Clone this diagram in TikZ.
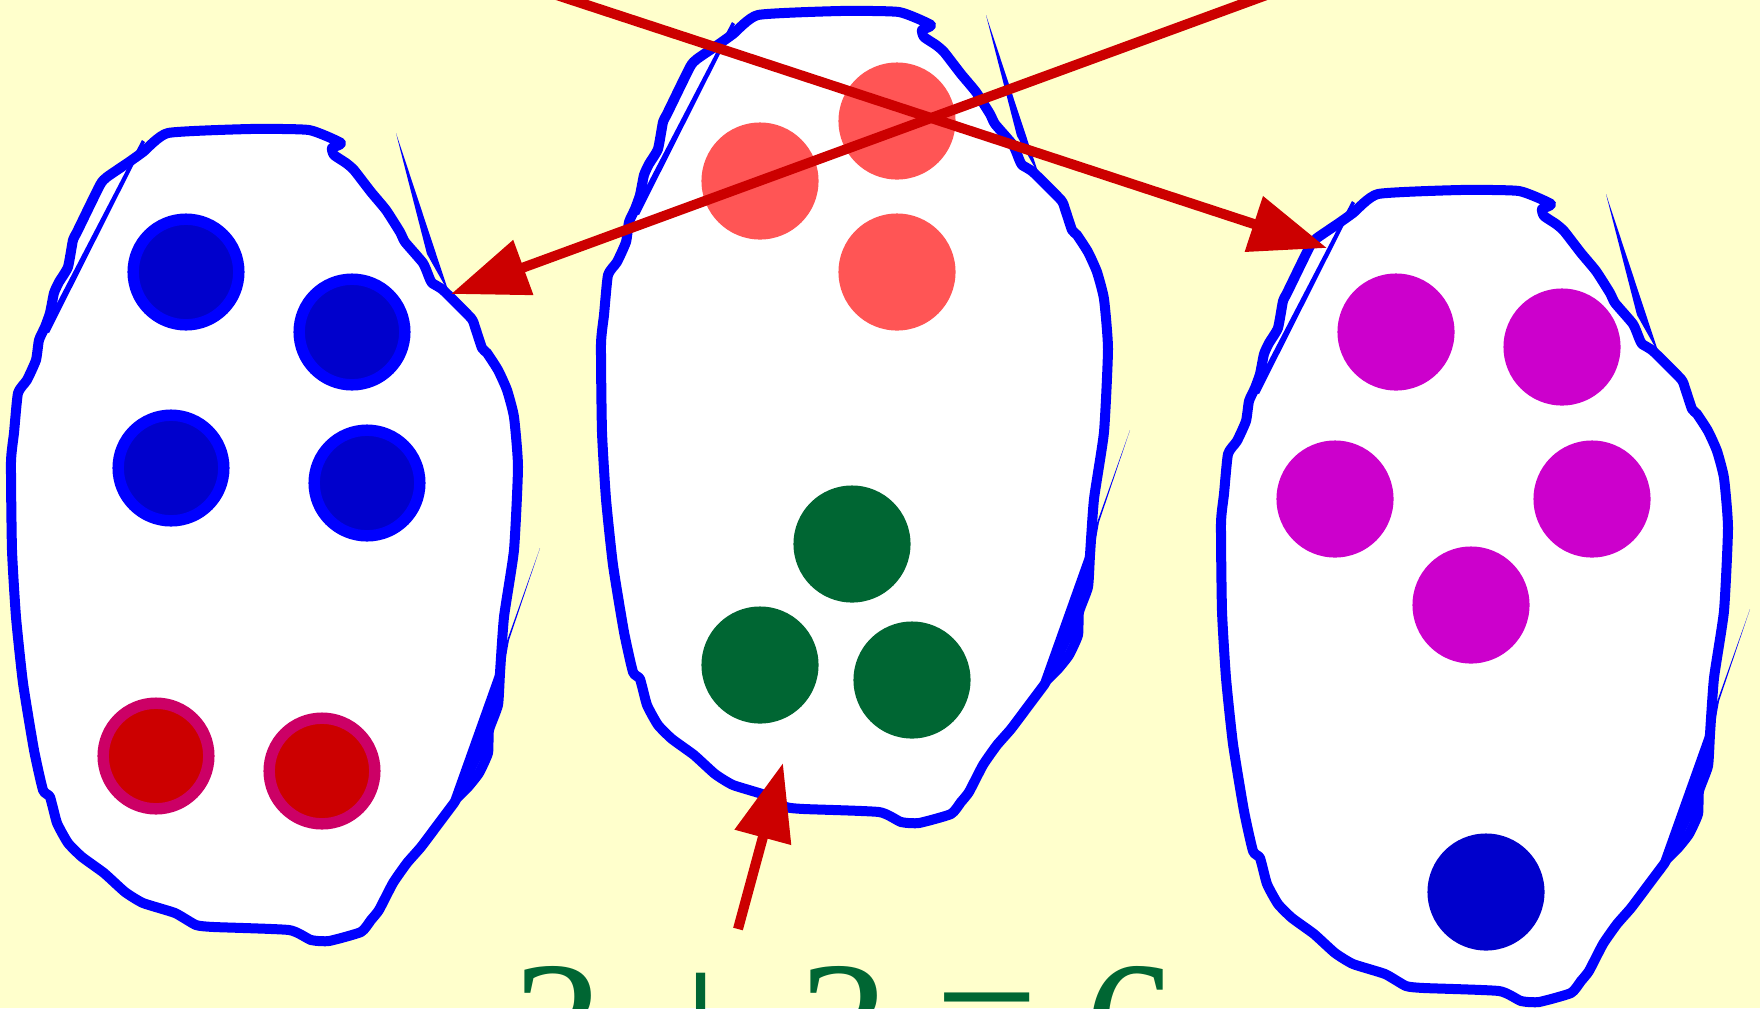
\documentclass[tikz,border=0pt]{standalone}
\usepackage{fontspec}
\setmainfont{Liberation Serif}
\usetikzlibrary{arrows.meta}
\definecolor{paper}{HTML}{FFFFCC}
\definecolor{bagblue}{HTML}{0000FF}
\definecolor{darkblue}{HTML}{0000CC}
\definecolor{dotred}{HTML}{CC0000}
\definecolor{ringred}{HTML}{CC0066}
\definecolor{salmon}{HTML}{FF5555}
\definecolor{leafgreen}{HTML}{006633}
\definecolor{plum}{HTML}{CC00CC}

\begin{document}
\begin{tikzpicture}[x=0.01cm,y=-0.01cm,
  outline/.style={draw=bagblue,fill=white,line width=0.1cm,line join=round},
  ringdot/.style={circle,inner sep=0pt,line width=0.114cm,minimum size=1.056cm},
  dot/.style={circle,inner sep=0pt,minimum size=1.17cm},
  pointer/.style={draw=dotred,line width=0.1cm,-{Triangle[length=0.77cm,width=0.56cm]}}]
\useasboundingbox (0,0) rectangle (1760,1008);
\clip (0,0) rectangle (1760,1008);
\fill[paper] (0,0) rectangle (1760,1008);

\foreach \dx/\dy in {0/0,590/-118,1210/61}{
\begin{scope}[shift={(\dx,\dy)}]
\draw[outline] plot[smooth cycle,tension=0.3] coordinates {(168,133) (250,129) (309,130) (341,143) (332,148) (334,155) (346,163) (354,170) (371,192) (386,210) (400,232) (405,242) (423,263) (429,277) (432,283) (443,290) (471,318) (475,327) (482,348) (487,353) (498,370) (507,390) (514,417) (518,467) (514,550) (504,617) (500,673) (498,705) (489,730) (488,753) (479,773) (468,787) (457,798) (454,803) (439,823) (421,847) (407,863) (393,883) (379,910) (371,920) (361,932) (329,941) (311,940) (289,930) (214,927) (196,925) (175,913) (143,903) (125,892) (104,873) (82,857) (68,843) (57,823) (50,797) (43,790) (34,750) (23,683) (16,617) (12,550) (11,462) (14,433) (18,393) (27,380) (36,360) (39,340) (45,327) (50,313) (54,293) (59,282) (68,267) (73,240) (77,232) (100,185) (107,177) (129,162) (143,152)};
\fill[bagblue] (142,140) -- (145,142) -- (49,333) -- (43,330) -- cycle;
\fill[bagblue] (396,133) -- (427,254) -- (449,293) -- cycle;
\fill[bagblue] (540,548) -- (451,798) -- (466,789) -- (489,742) -- (500,690) -- (509,640) -- cycle;
\end{scope}
}

\node[ringdot,draw=bagblue,fill=darkblue] (b1) at (186,272) {};
\node[ringdot,draw=bagblue,fill=darkblue] (b2) at (352,332) {};
\node[ringdot,draw=bagblue,fill=darkblue] (b3) at (171,468) {};
\node[ringdot,draw=bagblue,fill=darkblue] (b4) at (367,483) {};
\node[ringdot,draw=ringred,fill=dotred] (r1) at (156,756) {};
\node[ringdot,draw=ringred,fill=dotred] (r2) at (322,771) {};

\node[dot,fill=salmon] (s1) at (760,181) {};
\node[dot,fill=salmon] (s2) at (897,121) {};
\node[dot,fill=salmon] (s3) at (897,272) {};
\node[dot,fill=leafgreen] (g1) at (852,544) {};
\node[dot,fill=leafgreen] (g2) at (760,665) {};
\node[dot,fill=leafgreen] (g3) at (912,680) {};

\node[dot,fill=plum] (m1) at (1396,332) {};
\node[dot,fill=plum] (m2) at (1562,347) {};
\node[dot,fill=plum] (m3) at (1335,499) {};
\node[dot,fill=plum] (m4) at (1592,499) {};
\node[dot,fill=plum] (m5) at (1471,605) {};
\node[dot,fill=darkblue] (d1) at (1486,892) {};

\coordinate (srcA) at (450,-40);
\coordinate (tipA) at (1327,248);
\coordinate (srcB) at (1362,-40);
\coordinate (tipB) at (451,294);
\coordinate (srcC) at (738,929);
\coordinate (tipC) at (783,763);
\draw[pointer] (srcA) -- (tipA);
\draw[pointer] (srcB) -- (tipB);
\draw[pointer] (srcC) -- (tipC);

\node[anchor=base west,inner sep=0pt,text=leafgreen,font=\fontsize{52}{60}\selectfont] (sum) at (512,1087) {3 \raisebox{.06em}{+} 3 \raisebox{.06em}{=} 6};
\end{tikzpicture}
\end{document}
